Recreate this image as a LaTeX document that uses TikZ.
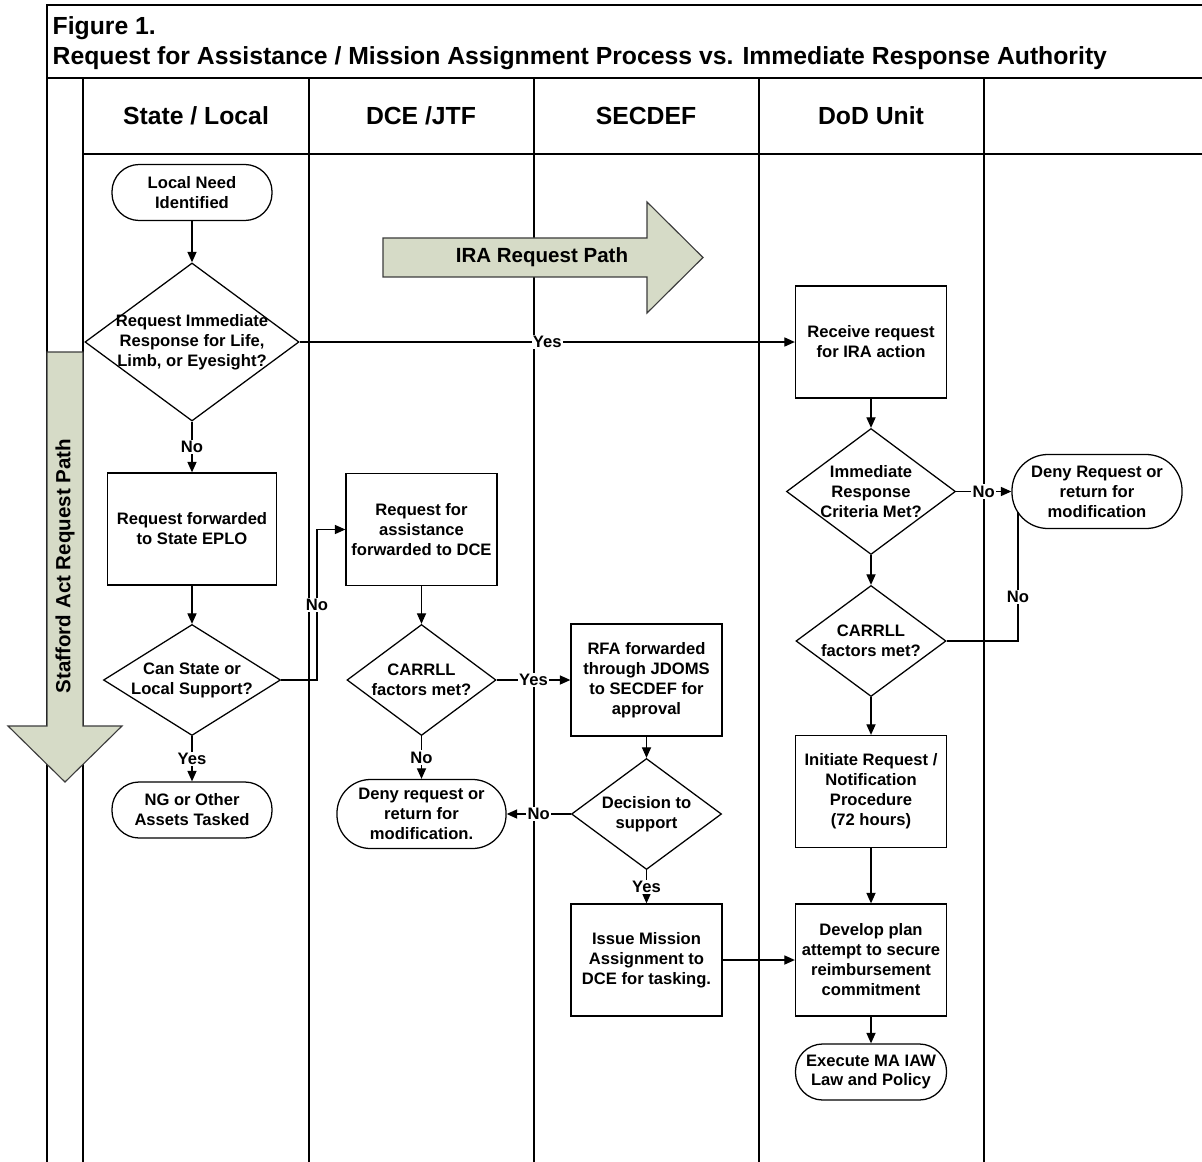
\documentclass[tikz,border=0pt]{standalone}
\usepackage{fontspec}
\setmainfont{Liberation Sans}
\usepackage{tikz}
\usetikzlibrary{arrows.meta,shapes.geometric}

\definecolor{pathfill}{RGB}{214,219,199}
\definecolor{pathline}{RGB}{60,60,60}

\begin{document}
\begin{tikzpicture}[x=0.025cm, y=-0.025cm, line width=0.9pt,
    font=\bfseries\fontsize{11.8}{14.2}\selectfont,
    every label/.style={align=center, inner sep=0pt},
    process/.style={draw, rectangle, align=center, inner sep=2pt, minimum width=3.775cm, minimum height=2.8cm},
    terminal/.style={draw, rectangle, rounded corners=0.68cm, align=center, inner sep=1pt, minimum width=4cm, minimum height=1.4cm},
    decision/.style={draw, diamond, inner sep=0pt, minimum width=3.75cm, minimum height=2.775cm},
    flow/.style={draw, -{Triangle[length=7.5pt,width=6.5pt]}},
    cond/.style={fill=white, inner sep=1pt},
    bigtext/.style={font=\bfseries\fontsize{17.6}{21}\selectfont, inner sep=0pt},
    pathtext/.style={font=\bfseries\fontsize{14.6}{17}\selectfont, inner sep=0pt},
    blockarrow/.style={draw=pathline, fill=pathfill, line width=0.8pt}]
  \useasboundingbox (0,0) rectangle (1202,1162);

  % frame and swim lanes
  \draw (47,1162) -- (47,5) -- (1202,5);
  \draw (47,78) -- (1202,78);
  \draw (83,154) -- (1202,154);
  \foreach \xl in {83,309,534,759,984}
    \draw (\xl,78) -- (\xl,1162);

  \node[bigtext, anchor=base west] (figno)    at (52,35) {Figure 1.};
  \node[bigtext, anchor=base west] (figtitle) at (52,65)
    {Request for Assistance / Mission Assignment Process vs. Immediate Response Authority};

  \node[bigtext, anchor=base] (hState)  at (196,125) {State / Local};
  \node[bigtext, anchor=base] (hDce)    at (421,125) {DCE /JTF};
  \node[bigtext, anchor=base] (hSecdef) at (646,125) {SECDEF};
  \node[bigtext, anchor=base] (hDod)    at (871,125) {DoD Unit};

  % request paths
  \draw[blockarrow] (383,238) -- (647,238) -- (647,202) -- (703,257.5)
    -- (647,313) -- (647,277) -- (383,277) -- cycle;
  \node[pathtext] (iraText) at (542,257.5) {IRA Request Path};
  \draw[blockarrow] (47,352) -- (83,352) -- (83,726) -- (122,726)
    -- (65,782) -- (8,726) -- (47,726) -- cycle;
  \node[pathtext, rotate=90] (staffText) at (65,566) {Stafford Act Request Path};

  % State / Local
  \node[terminal] (needT) at (192,192.5) {Local Need\\Identified};
  \node[decision, minimum width=5.35cm, minimum height=3.95cm,
    label=center:{Request Immediate\\Response for Life,\\Limb, or Eyesight?}] (dLife) at (192,342) {};
  \node[process, minimum width=4.225cm] (eplo) at (192,529) {Request forwarded\\to State EPLO};
  \node[decision, minimum width=4.425cm,
    label=center:{Can State or\\Local Support?}] (dState) at (192,680) {};
  \node[terminal] (ngT) at (192,810) {NG or Other\\Assets Tasked};

  % DCE / JTF
  \node[process] (rfaDce) at (421.5,529.5) {Request for\\assistance\\forwarded to DCE};
  \node[decision, minimum width=3.725cm,
    label=center:{CARRLL\\factors met?}] (dCarrDce) at (421.5,680) {};
  \node[terminal, minimum width=4.225cm, minimum height=1.725cm, rounded corners=0.84cm]
    (denyDce) at (421.5,814) {Deny request or\\return for\\modification.};

  % SECDEF
  \node[process] (rfaSec) at (646.5,680) {RFA forwarded\\through JDOMS\\to SECDEF for\\approval};
  \node[decision, label=center:{Decision to\\support}] (dDecide) at (646.5,814) {};
  \node[process] (issue) at (646.5,960) {Issue Mission\\Assignment to\\DCE for tasking.};

  % DoD Unit
  \node[process] (receive) at (871,342) {Receive request\\for IRA action};
  \node[decision, minimum width=4.225cm, minimum height=3.15cm,
    label=center:{Immediate\\Response\\Criteria Met?}] (dCrit) at (871,491.5) {};
  \node[terminal, minimum width=4.25cm, minimum height=1.85cm, rounded corners=0.9cm]
    (denyDod) at (1097,491.5) {Deny Request or\\return for\\modification};
  \node[decision, label=center:{CARRLL\\factors met?}] (dCarrDod) at (871,641) {};
  \node[process] (notify) at (871,791.5) {Initiate Request /\\Notification\\Procedure\\(72 hours)};
  \node[process] (develop) at (871,960) {Develop plan\\attempt to secure\\reimbursement\\commitment};
  \node[terminal, minimum width=3.775cm] (execT) at (871,1072) {Execute MA IAW\\Law and Policy};

  \coordinate (bendNo) at (317,680);
  \coordinate (denyFoot) at (1018,512);

  % connectors
  \draw[flow] (needT) -- (dLife);
  \draw[flow] (dLife.east) -- node[cond] {Yes} (receive.west);
  \draw[flow] (dLife) -- node[cond] {No} (eplo);
  \draw[flow] (eplo) -- (dState);
  \draw[flow] (dState) -- node[cond] {Yes} (ngT);
  \draw[flow] (dState.east) -- (bendNo) |- node[cond, pos=0.25] {No} (rfaDce.west);
  \draw[flow] (rfaDce) -- (dCarrDce);
  \draw[flow] (dCarrDce.east) -- node[cond] {Yes} (rfaSec.west);
  \draw[flow] (dCarrDce) -- node[cond] {No} (denyDce);
  \draw[flow] (rfaSec) -- (dDecide);
  \draw[flow] (dDecide.west) -- node[cond] {No} (denyDce.east);
  \draw[flow] (dDecide) -- node[cond] {Yes} (issue);
  \draw[flow] (issue.east) -- (develop.west);
  \draw[flow] (receive) -- (dCrit);
  \draw[flow] (dCrit.east) -- node[cond] {No} (denyDod.west);
  \draw[flow] (dCrit) -- (dCarrDod);
  \draw (dCarrDod.east) -| node[cond, pos=0.67] {No} (denyFoot);
  \draw[flow] (dCarrDod) -- (notify);
  \draw[flow] (notify) -- (develop);
  \draw[flow] (develop) -- (execT);
\end{tikzpicture}
\end{document}
